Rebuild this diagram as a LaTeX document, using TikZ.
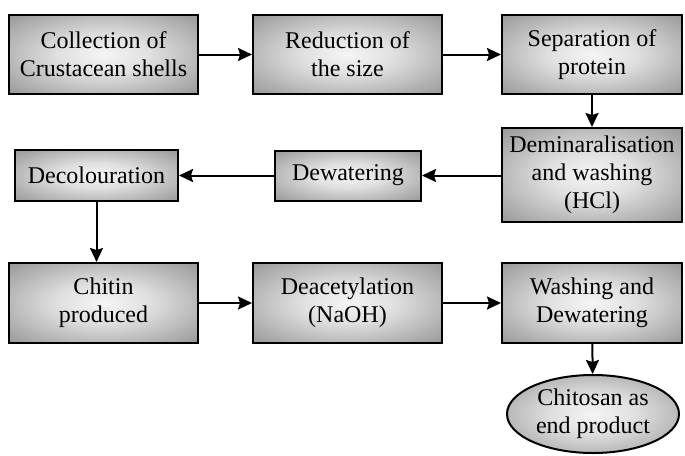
\documentclass[tikz,border=0pt]{standalone}
\usepackage{fontspec}
\setmainfont{Liberation Serif}
\usetikzlibrary{shapes.geometric,arrows.meta}
\pgfdeclareradialshading{boxshade}{\pgfpoint{0bp}{0bp}}{color(0bp)=(black!4); color(12bp)=(black!12); color(50bp)=(black!58)}
\begin{document}
\begin{tikzpicture}[x=1pt,y=-1pt,
  box/.style={draw=black, line width=2pt, shading=boxshade, align=center,
    font=\fontsize{24}{28}\selectfont, inner sep=0pt},
  oval/.style={ellipse, draw=black, line width=2pt, shading=boxshade, align=center,
    font=\fontsize{24}{28}\selectfont, inner sep=0pt},
  arr/.style={line width=2pt, -{Stealth[length=14pt,width=13pt,inset=2pt]}}]
\useasboundingbox (0,0) rectangle (685,455);
\node[box, minimum width=189pt, minimum height=79pt] (a) at (103.5,54.5) {Collection of\\Crustacean shells};
\node[box, minimum width=189pt, minimum height=79pt] (b) at (347.5,54.5) {Reduction of\\the size};
\node[box, minimum width=180pt, minimum height=79pt] (c) at (592,54.5) {Separation of\\protein};
\node[box, minimum width=180pt, minimum height=94pt] (d) at (592,175) {Deminaralisation\\and washing\\(HCl)};
\node[box, minimum width=146pt, minimum height=50pt] (e) at (348,175.5) {Dewatering};
\node[box, minimum width=163pt, minimum height=51pt] (f) at (96.5,175.5) {Decolouration};
\node[box, minimum width=189pt, minimum height=80pt] (g) at (103.5,303) {Chitin\\produced};
\node[box, minimum width=189pt, minimum height=80pt] (h) at (347.5,303) {Deacetylation\\(NaOH)};
\node[box, minimum width=180pt, minimum height=80pt] (i) at (592,303) {Washing and\\Dewatering};
\node[oval, minimum width=172pt, minimum height=78pt] (j) at (593,414) {Chitosan as\\end product};
\draw[arr] (a) -- (b);
\draw[arr] (b) -- (c);
\draw[arr] (c) -- (d);
\draw[arr] (d.west |- e) -- (e);
\draw[arr] (e) -- (f);
\draw[arr] (f) -- (g.north -| f);
\draw[arr] (g) -- (h);
\draw[arr] (h) -- (i);
\draw[arr] (i) -- (j);
\end{tikzpicture}
\end{document}
